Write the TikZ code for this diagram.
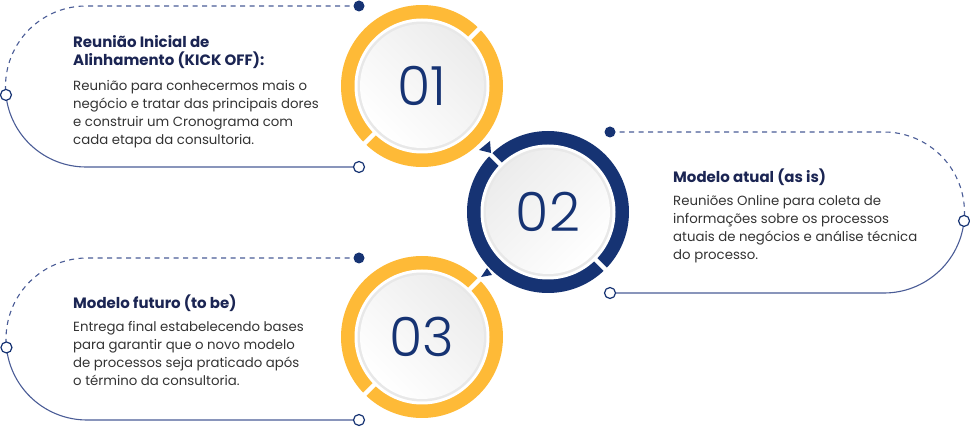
\documentclass[tikz,border=0pt]{standalone}
\usepackage{fontspec}
\setmainfont{Poppins}
\newfontfamily\numfont{Poppins Light}
\usetikzlibrary{calc}
\definecolor{navy}{HTML}{163373}
\definecolor{gold}{HTML}{FEBA37}
\definecolor{linec}{HTML}{4A5C96}
\definecolor{headc}{HTML}{1B2553}
\definecolor{bodyc}{HTML}{333333}
\tikzset{
  dashline/.style={linec, line width=1.1pt, dash pattern=on 5pt off 4.5pt},
  solidline/.style={linec, line width=1.1pt},
  filldot/.style={circle, fill=navy, minimum size=11pt, inner sep=0pt},
  opendot/.style={circle, draw=navy, fill=white, line width=1.2pt, minimum size=11pt, inner sep=0pt},
  headtxt/.style={anchor=base west, align=left, inner sep=0pt, text=headc, font=\bfseries\fontsize{15}{18}\selectfont},
  bodytxt/.style={anchor=base west, align=left, inner sep=0pt, text=bodyc, font=\fontsize{13.3}{18}\selectfont},
  numtxt/.style={text=navy, font=\numfont\fontsize{54}{54}\selectfont, inner sep=0pt},
  tri/.style={fill=navy}
}
\newcommand{\numdisk}[6]{% name, x, y, colour, gap angle, shading angle
  \fill[#4] (#2,#3) circle[radius=81];
  \fill[white] (#2,#3) circle[radius=67.5];
  \draw[white, line width=4.5pt] ($(#2,#3)+(#5:58)$) -- ($(#2,#3)+(#5:86)$);
  \draw[white, line width=4.5pt] ($(#2,#3)+(#5+180:58)$) -- ($(#2,#3)+(#5+180:86)$);
  \fill[gray!18] (#2,#3) circle[radius=64.5];
  \shade[top color=gray!15, bottom color=white, shading angle=#6] (#2,#3) circle[radius=62];
}
\begin{document}
\begin{tikzpicture}[x=1pt, y=-1pt]
\useasboundingbox (0,0) rectangle (970,427);
% ---- card outlines
\coordinate (c1) at (86,86.5);
\coordinate (d1) at (359,6);
\coordinate (o1a) at ($(c1)+(174:80.5)$);
\coordinate (o1b) at (359,167);
\draw[dashline] (d1) -- ($(c1)+(270:80.5)$) arc[start angle=270, end angle=174, radius=80.5];
\draw[solidline] (o1a) arc[start angle=174, end angle=90, radius=80.5] -- (o1b);
\coordinate (c2) at (884,212.5);
\coordinate (d2) at (610,132);
\coordinate (o2a) at ($(c2)+(366:80.5)$);
\coordinate (o2b) at (610,293);
\draw[dashline] (d2) -- ($(c2)+(270:80.5)$) arc[start angle=270, end angle=366, radius=80.5];
\draw[solidline] (o2a) arc[start angle=366, end angle=450, radius=80.5] -- (o2b);
\coordinate (c3) at (87,339);
\coordinate (d3) at (359,258);
\coordinate (o3a) at ($(c3)+(174:81)$);
\coordinate (o3b) at (359,420);
\draw[dashline] (d3) -- ($(c3)+(270:81)$) arc[start angle=270, end angle=174, radius=81];
\draw[solidline] (o3a) arc[start angle=174, end angle=90, radius=81] -- (o3b);
% ---- dots
\node[filldot] (D1) at (d1) {};
\node[opendot] (O1a) at (o1a) {};
\node[opendot] (O1b) at (o1b) {};
\node[filldot] (D2) at (d2) {};
\node[opendot] (O2a) at (o2a) {};
\node[opendot] (O2b) at (o2b) {};
\node[filldot] (D3) at (d3) {};
\node[opendot] (O3a) at (o3a) {};
\node[opendot] (O3b) at (o3b) {};
% ---- number disks
\numdisk{1}{422}{86}{gold}{315}{-45}
\node[numtxt] (n1) at (422,86) {01};
\numdisk{2}{548}{212}{navy}{225}{45}
\node[numtxt] (n2) at (548,212) {02};
\numdisk{3}{422}{337}{gold}{315}{-45}
\node[numtxt] (n3) at (422,337) {03};
% ---- small triangles
\fill[tri] (490,141) -- (479,150) -- (491,153) -- cycle;
\fill[tri] (487,268) -- (481,277) -- (492,275) -- cycle;
% ---- texts (anchored at the baseline of the last line)
\node[headtxt] (h1) at (73,66) {Reunião Inicial de\\Alinhamento (KICK OFF):};
\node[bodytxt] (b1) at (73,145) {Reunião para conhecermos mais o\\negócio e tratar das principais dores\\e construir um Cronograma com\\cada etapa da consultoria.};
\node[headtxt] (h2) at (673,183) {Modelo atual (as is)};
\node[bodytxt] (b2) at (673,260) {Reuniões Online para coleta de\\informações sobre os processos\\atuais de negócios e análise técnica\\do processo.};
\node[headtxt] (h3) at (73,309) {Modelo futuro (to be)};
\node[bodytxt] (b3) at (73,386) {Entrega final estabelecendo bases\\para garantir que o novo modelo\\de processos seja praticado após\\o término da consultoria.};
\end{tikzpicture}
\end{document}
